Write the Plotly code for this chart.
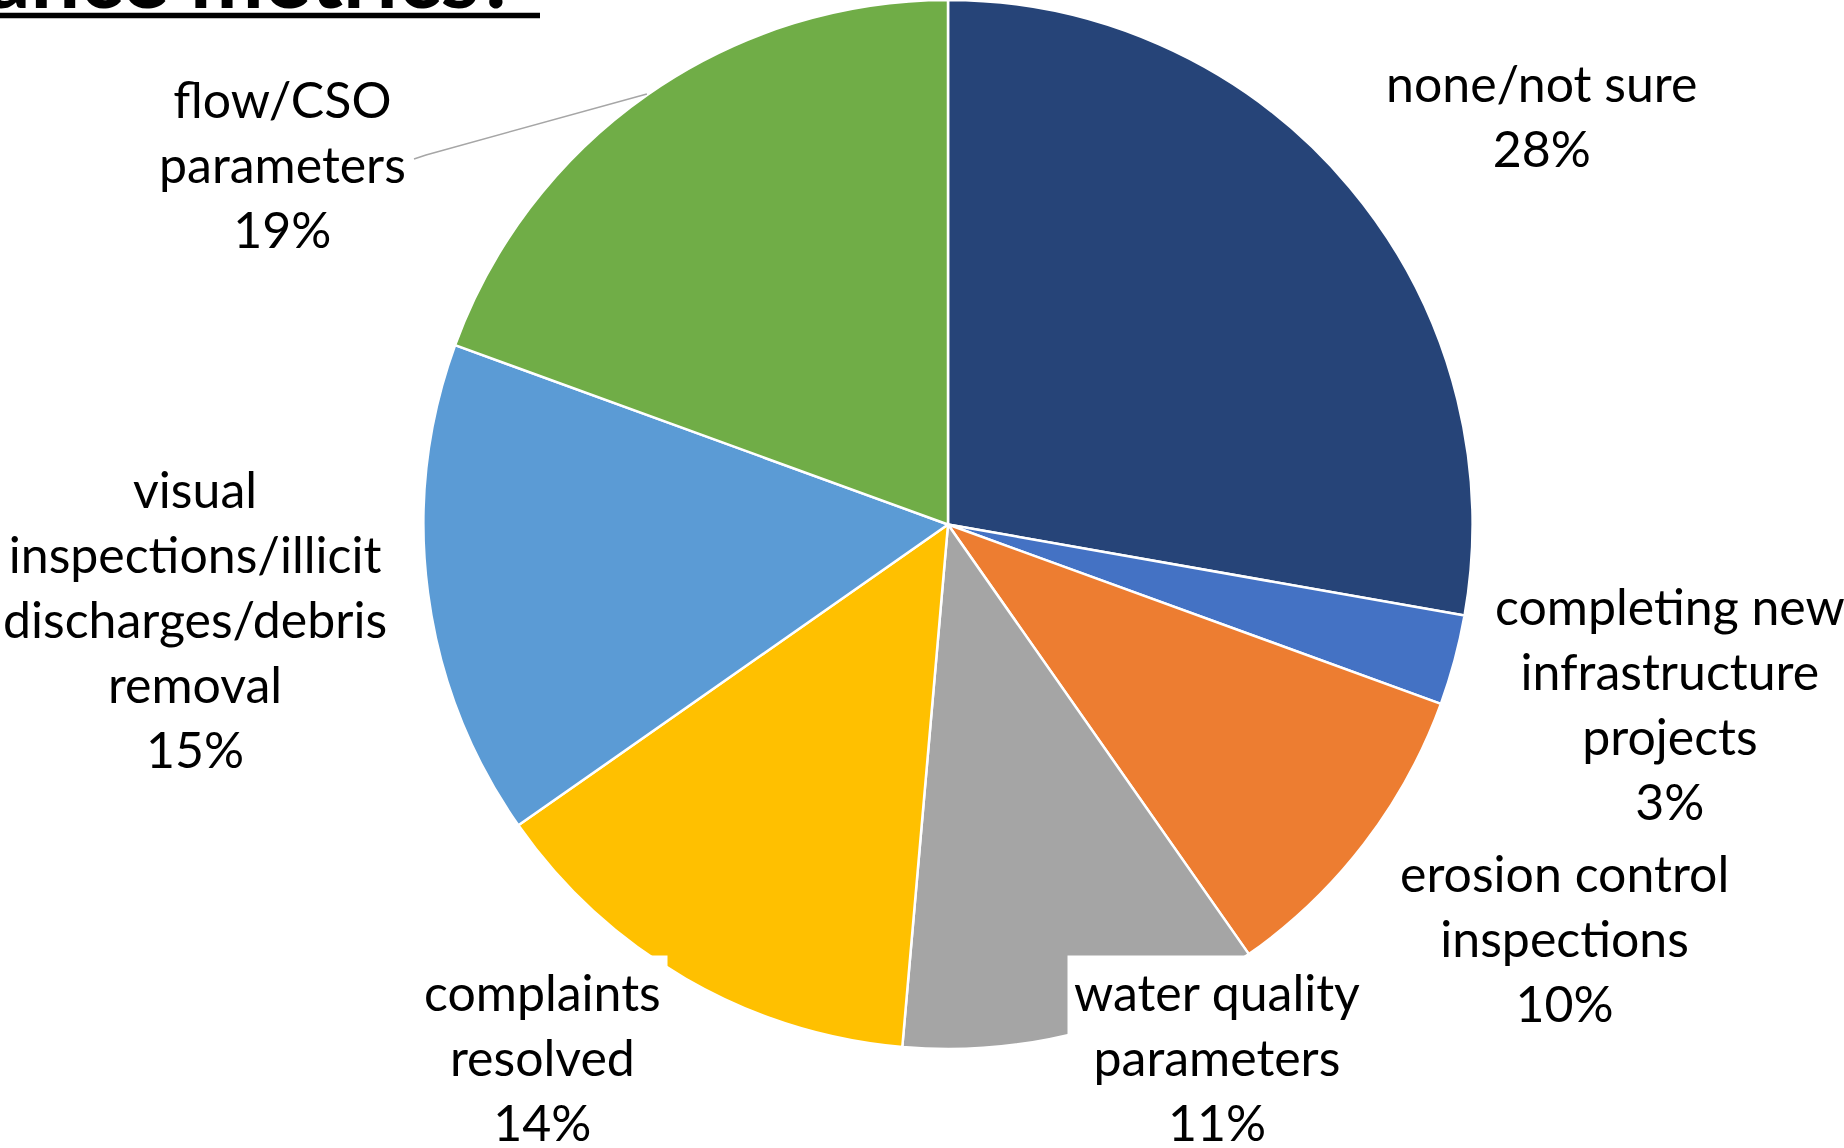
import math
import plotly.graph_objects as go

# ---- data ----
categories = [
    "none/not sure",
    "completing new infrastructure projects",
    "erosion control inspections",
    "water quality parameters",
    "complaints resolved",
    "visual inspections/illicit discharges/debris removal",
    "flow/CSO parameters",
]
label_lines = [
    "none/not sure",
    "completing new<br>infrastructure<br>projects",
    "erosion control<br>inspections",
    "water quality<br>parameters",
    "complaints<br>resolved",
    "visual<br>inspections/illicit<br>discharges/debris<br>removal",
    "flow/CSO<br>parameters",
]
counts = [20, 2, 7, 8, 10, 11, 14]
colors = ["#264478", "#4472C4", "#ED7D31", "#A5A5A5", "#FFC000", "#5B9BD5", "#70AD47"]
title_text = "What are your performance metrics?"

# ---- layout helpers (pixel -> paper) ----
W, H = 1844, 1148
def px(x):
    return min(1.0, max(0.0, x / W))
def py(y):
    return min(1.0, max(0.0, 1 - y / H))

cx, cy, R = 948, 524, 525
FONT = "Lato"
FS = 50

fig = go.Figure()
fig.add_trace(go.Pie(
    labels=categories,
    values=counts,
    sort=False,
    direction="clockwise",
    rotation=0,
    marker=dict(colors=colors, line=dict(color="white", width=2.5)),
    textinfo="none",
    hoverinfo="label+percent",
    showlegend=False,
    domain=dict(x=[px(cx - R), px(cx + R)], y=[py(cy + R), py(cy - R)]),
))

# label centres (pixels)
label_pos = [
    (1541, 115, False),
    (1670, 703, False),
    (1564, 938, False),
    (1217, 1057, True),
    (542, 1057, True),
    (195, 619, False),
    (282, 164, False),
]
total = sum(counts)
for i, (lx, ly, bg) in enumerate(label_pos):
    pct = round(100 * counts[i] / total)
    fig.add_annotation(
        x=px(lx), y=py(ly), xref="paper", yref="paper",
        text=f"{label_lines[i]}<br>{pct}%",
        showarrow=False, xanchor="center", yanchor="middle",
        font=dict(family=FONT, size=FS, color="black"),
        bgcolor="white" if bg else "rgba(0,0,0,0)",
        borderpad=6,
    )

# leader line for flow/CSO label: ends at slice mid-angle on the rim
cum_before = sum(counts[:6])
mid = (cum_before + counts[6] / 2) / total * 2 * math.pi
ex = cx + R * math.sin(mid)
ey = cy - R * math.cos(mid)
fig.add_shape(
    type="path", xref="paper", yref="paper",
    path=f"M {px(414)},{py(159)} L {px(426)},{py(155)} L {px(ex)},{py(ey)}",
    line=dict(color="#A6A6A6", width=1.5),
)

# clipped title at top-left with underline
fig.add_annotation(
    x=px(520), y=py(29), xref="paper", yref="paper",
    text=f"<b>{title_text}</b>", showarrow=False,
    xanchor="right", yanchor="bottom",
    font=dict(family=FONT, size=88, color="black"),
)
fig.add_shape(type="line", xref="paper", yref="paper",
              x0=0, x1=px(540), y0=py(15.5), y1=py(15.5),
              line=dict(color="black", width=5.5))

fig.update_layout(
    width=W, height=H,
    margin=dict(l=0, r=0, t=0, b=0),
    paper_bgcolor="white", plot_bgcolor="white",
)
fig.write_html(
    "out.html",
    config={"displayModeBar": False},
    post_script="document.body.style.margin='0';document.body.style.overflow='hidden';",
)
